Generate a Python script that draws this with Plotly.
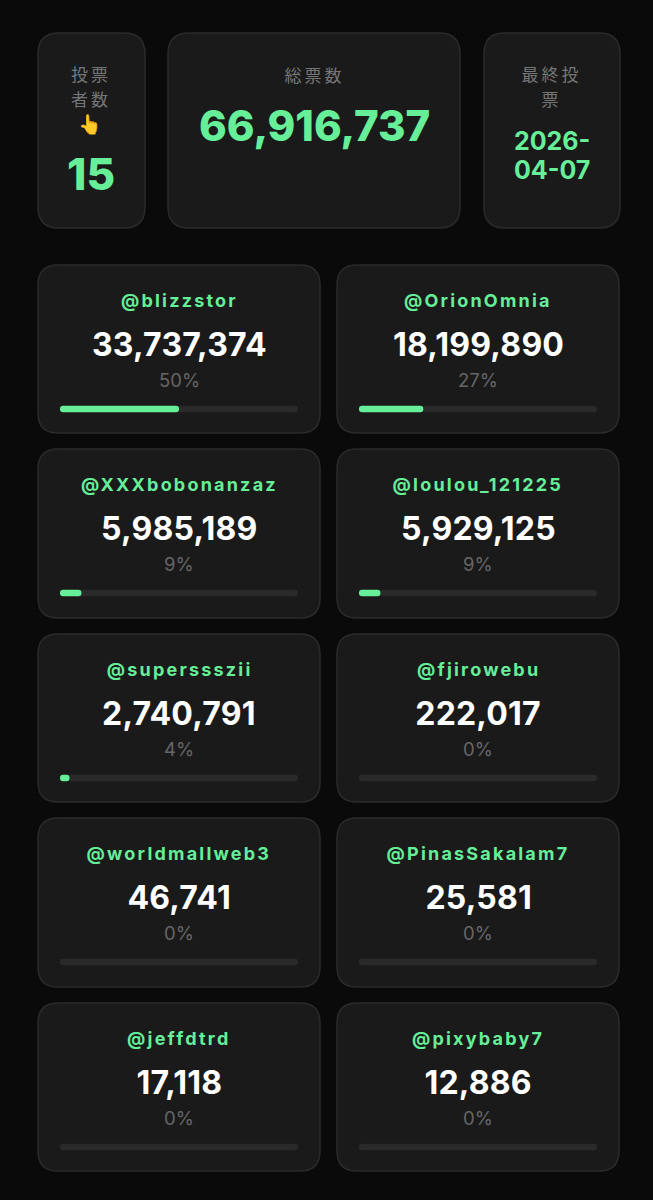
import plotly.graph_objects as go

# ---- data ----
handles = ["@blizzstor", "@OrionOmnia", "@XXXbobonanzaz", "@loulou_121225", "@superssszii",
           "@fjirowebu", "@worldmallweb3", "@PinasSakalam7", "@jeffdtrd", "@pixybaby7"]
votes = [33737374, 18199890, 5985189, 5929125, 2740791, 222017, 46741, 25581, 17118, 12886]
percents = [50, 27, 9, 9, 4, 0, 0, 0, 0, 0]
voter_label_lines = ["投票", "者数", "👆"]
total_label = "総票数"
last_label_lines = ["最終投", "票"]
voter_count = "15"
total_votes = "66,916,737"
last_date_lines = ["2026-", "04-07"]

# ---- layout constants ----
BG, CARD, EDGE, GREEN, GREY, TRACK = "#0a0a0a", "#1a1a1a", "#2b2b2b", "#66ee99", "#767676", "#2a2a2a"
SANS, CJK = "Inter, Roboto, sans-serif", "'Noto Sans CJK JP', sans-serif"
COL_X = [(38, 320), (337, 619)]
ROW_Y = [(265, 433), (449, 618), (634, 802), (818, 987), (1003, 1171)]
TOP_X = [(38, 145), (168, 460), (484, 620)]
TOP_Y = (33, 228)


def rr(x0, y0, x1, y1, r):
    return (f"M{x0+r},{y0} L{x1-r},{y0} Q{x1},{y0} {x1},{y0+r} L{x1},{y1-r} Q{x1},{y1} {x1-r},{y1} "
            f"L{x0+r},{y1} Q{x0},{y1} {x0},{y1-r} L{x0},{y0+r} Q{x0},{y0} {x0+r},{y0} Z")


shapes, ann = [], []


def card(x0, y0, x1, y1, r):
    shapes.append(dict(type="path", path=rr(x0, y0, x1, y1, r), fillcolor=CARD,
                       line=dict(color=EDGE, width=1.5), layer="below"))


def text(x, y, s, size, color, family=SANS, weight=400):
    ann.append(dict(x=x, y=y, text=s, showarrow=False, xanchor="center", yanchor="middle",
                    font=dict(size=size, color=color, family=family, weight=weight)))


for (x0, x1) in TOP_X:
    card(x0, TOP_Y[0], x1, TOP_Y[1], 21)

# summary cards
for y, s in zip((73.5, 98.5), voter_label_lines[:2]):
    text(90.5, y, s, 17, GREY, CJK)
text(90, 124, voter_label_lines[2], 19, GREY)
text(91, 174, voter_count, 44, GREEN, weight=800)
text(314, 74, total_label, 17, GREY, CJK)
text(314, 125, total_votes, 42, GREEN, weight=800)
for y, s in zip((73.5, 98.5), last_label_lines):
    text(551, y, s, 17, GREY, CJK)
for y, s in zip((141, 170), last_date_lines):
    text(551.5, y, s, 25, GREEN, weight=700)

# voter cards
track_y, fill_w, fill_base = [], [], []
for i, (h, v, p) in enumerate(zip(handles, votes, percents)):
    x0, x1 = COL_X[i % 2]
    y0, y1 = ROW_Y[i // 2]
    cx = (x0 + x1) / 2
    card(x0, y0, x1, y1, 20)
    text(cx, y0 + 35, h, 18, GREEN, weight=700)
    text(cx, y0 + 79, f"{v:,}", 32, "#ffffff", weight=700)
    text(cx, y0 + 115, f"{p}%", 18.5, "#666666")
    track_y.append(y0 + 144)
    fill_base.append(x0 + 22)
    fill_w.append(238 * p / 100)

fig = go.Figure()
fig.add_bar(orientation="h", y=track_y, x=[238] * 10, base=fill_base, width=6.5,
            marker=dict(color=TRACK, line_width=0, cornerradius=3), hoverinfo="skip")
fig.add_bar(orientation="h", y=track_y, x=fill_w, base=fill_base, width=6.5,
            marker=dict(color=GREEN, line_width=0, cornerradius=3), hoverinfo="skip")
fig.update_layout(
    width=653, height=1200, margin=dict(l=0, r=0, t=0, b=0), barmode="overlay", showlegend=False,
    paper_bgcolor=BG, plot_bgcolor=BG, shapes=shapes, annotations=ann,
    xaxis=dict(range=[0, 653], visible=False, fixedrange=True),
    yaxis=dict(range=[1200, 0], visible=False, fixedrange=True),
)
spacing_js = """
document.body.style.margin='0';
document.querySelectorAll('.annotation-text').forEach(function(t){
  var s=t.textContent;
  if(s[0]==='@'){t.style.letterSpacing='2.2px';}
  else if(/[\\u3040-\\u9fff]/.test(s)){t.style.letterSpacing='3px';}
  else if(/^[0-9,]+$/.test(s) && s.length>2 && s!=='66,916,737'){t.style.letterSpacing='0.2px';}
});
"""
fig.write_html("out.html", config=dict(displayModeBar=False), post_script=spacing_js)
